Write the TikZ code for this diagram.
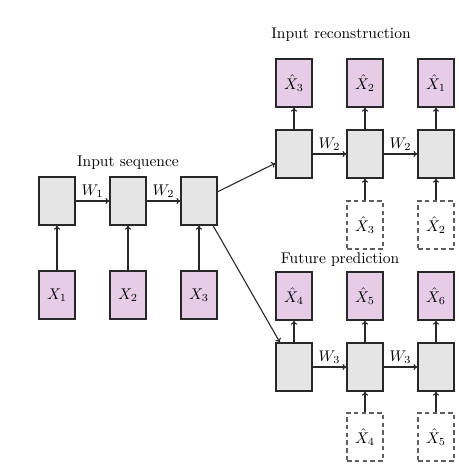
\documentclass[tikz,border=0pt]{standalone}
\usetikzlibrary{arrows.meta}
\definecolor{pinkfill}{RGB}{231,204,231}
\definecolor{grayfill}{RGB}{229,229,229}
\definecolor{edge}{RGB}{40,40,40}
\begin{document}
\begin{tikzpicture}[x=0.645pt,y=-0.645pt,
  cell/.style={draw=edge,line width=0.75pt,fill=grayfill,minimum width=23.2pt,minimum height=31pt,inner sep=0pt},
  inbox/.style={draw=edge,line width=0.75pt,fill=pinkfill,minimum width=23.2pt,minimum height=31pt,inner sep=0pt},
  dbox/.style={draw=edge!75,dash pattern=on 3pt off 2pt,line width=0.75pt,fill=white,minimum width=23.2pt,minimum height=31pt,inner sep=0pt},
  conn/.style={-{To[length=2.6pt,width=4pt]},line width=0.7pt,draw=edge},
  wlab/.style={inner sep=2pt,anchor=south}]
\useasboundingbox (0,0) rectangle (459,474);
% encoder
\node[cell] (g1) at (57,201) {};
\node[cell] (g2) at (128,201) {};
\node[cell] (g3) at (199,201) {};
\node[inbox] (x1) at (57,295) {$X_1$};
\node[inbox] (x2) at (128,295) {$X_2$};
\node[inbox] (x3) at (199,295) {$X_3$};
\node (t1) at (128,163) {Input sequence};
% reconstruction
\node[cell] (r1) at (294,154) {};
\node[cell] (r2) at (365,154) {};
\node[cell] (r3) at (436,154) {};
\node[inbox] (o1) at (294,83) {$\hat{X}_3$};
\node[inbox] (o2) at (365,83) {$\hat{X}_2$};
\node[inbox] (o3) at (436,83) {$\hat{X}_1$};
\node[dbox] (d2) at (365,225) {$\hat{X}_3$};
\node[dbox] (d3) at (436,225) {$\hat{X}_2$};
\node (t2) at (341,35) {Input reconstruction};
% prediction
\node[cell] (f1) at (294,367) {};
\node[cell] (f2) at (365,367) {};
\node[cell] (f3) at (436,367) {};
\node[inbox] (p1) at (294,296) {$\hat{X}_4$};
\node[inbox] (p2) at (365,296) {$\hat{X}_5$};
\node[inbox] (p3) at (436,296) {$\hat{X}_6$};
\node[dbox] (e2) at (365,437) {$\hat{X}_4$};
\node[dbox] (e3) at (436,437) {$\hat{X}_5$};
\node (t3) at (340,260) {Future prediction};
% connectors
\draw[conn] (x1) -- (g1);
\draw[conn] (x2) -- (g2);
\draw[conn] (x3) -- (g3);
\draw[conn] (g1) -- node[wlab] {$W_1$} (g2);
\draw[conn] (g2) -- node[wlab] {$W_2$} (g3);
\draw[conn] (g3) -- (r1);
\draw[conn] (g3) -- (f1);
\draw[conn] (r1) -- node[wlab] {$W_2$} (r2);
\draw[conn] (r2) -- node[wlab] {$W_2$} (r3);
\draw[conn] (r1) -- (o1);
\draw[conn] (r2) -- (o2);
\draw[conn] (r3) -- (o3);
\draw[conn] (d2) -- (r2);
\draw[conn] (d3) -- (r3);
\draw[conn] (f1) -- node[wlab] {$W_3$} (f2);
\draw[conn] (f2) -- node[wlab] {$W_3$} (f3);
\draw[conn] (f1) -- (p1);
\draw[conn] (f2) -- (p2);
\draw[conn] (f3) -- (p3);
\draw[conn] (e2) -- (f2);
\draw[conn] (e3) -- (f3);
\end{tikzpicture}
\end{document}
